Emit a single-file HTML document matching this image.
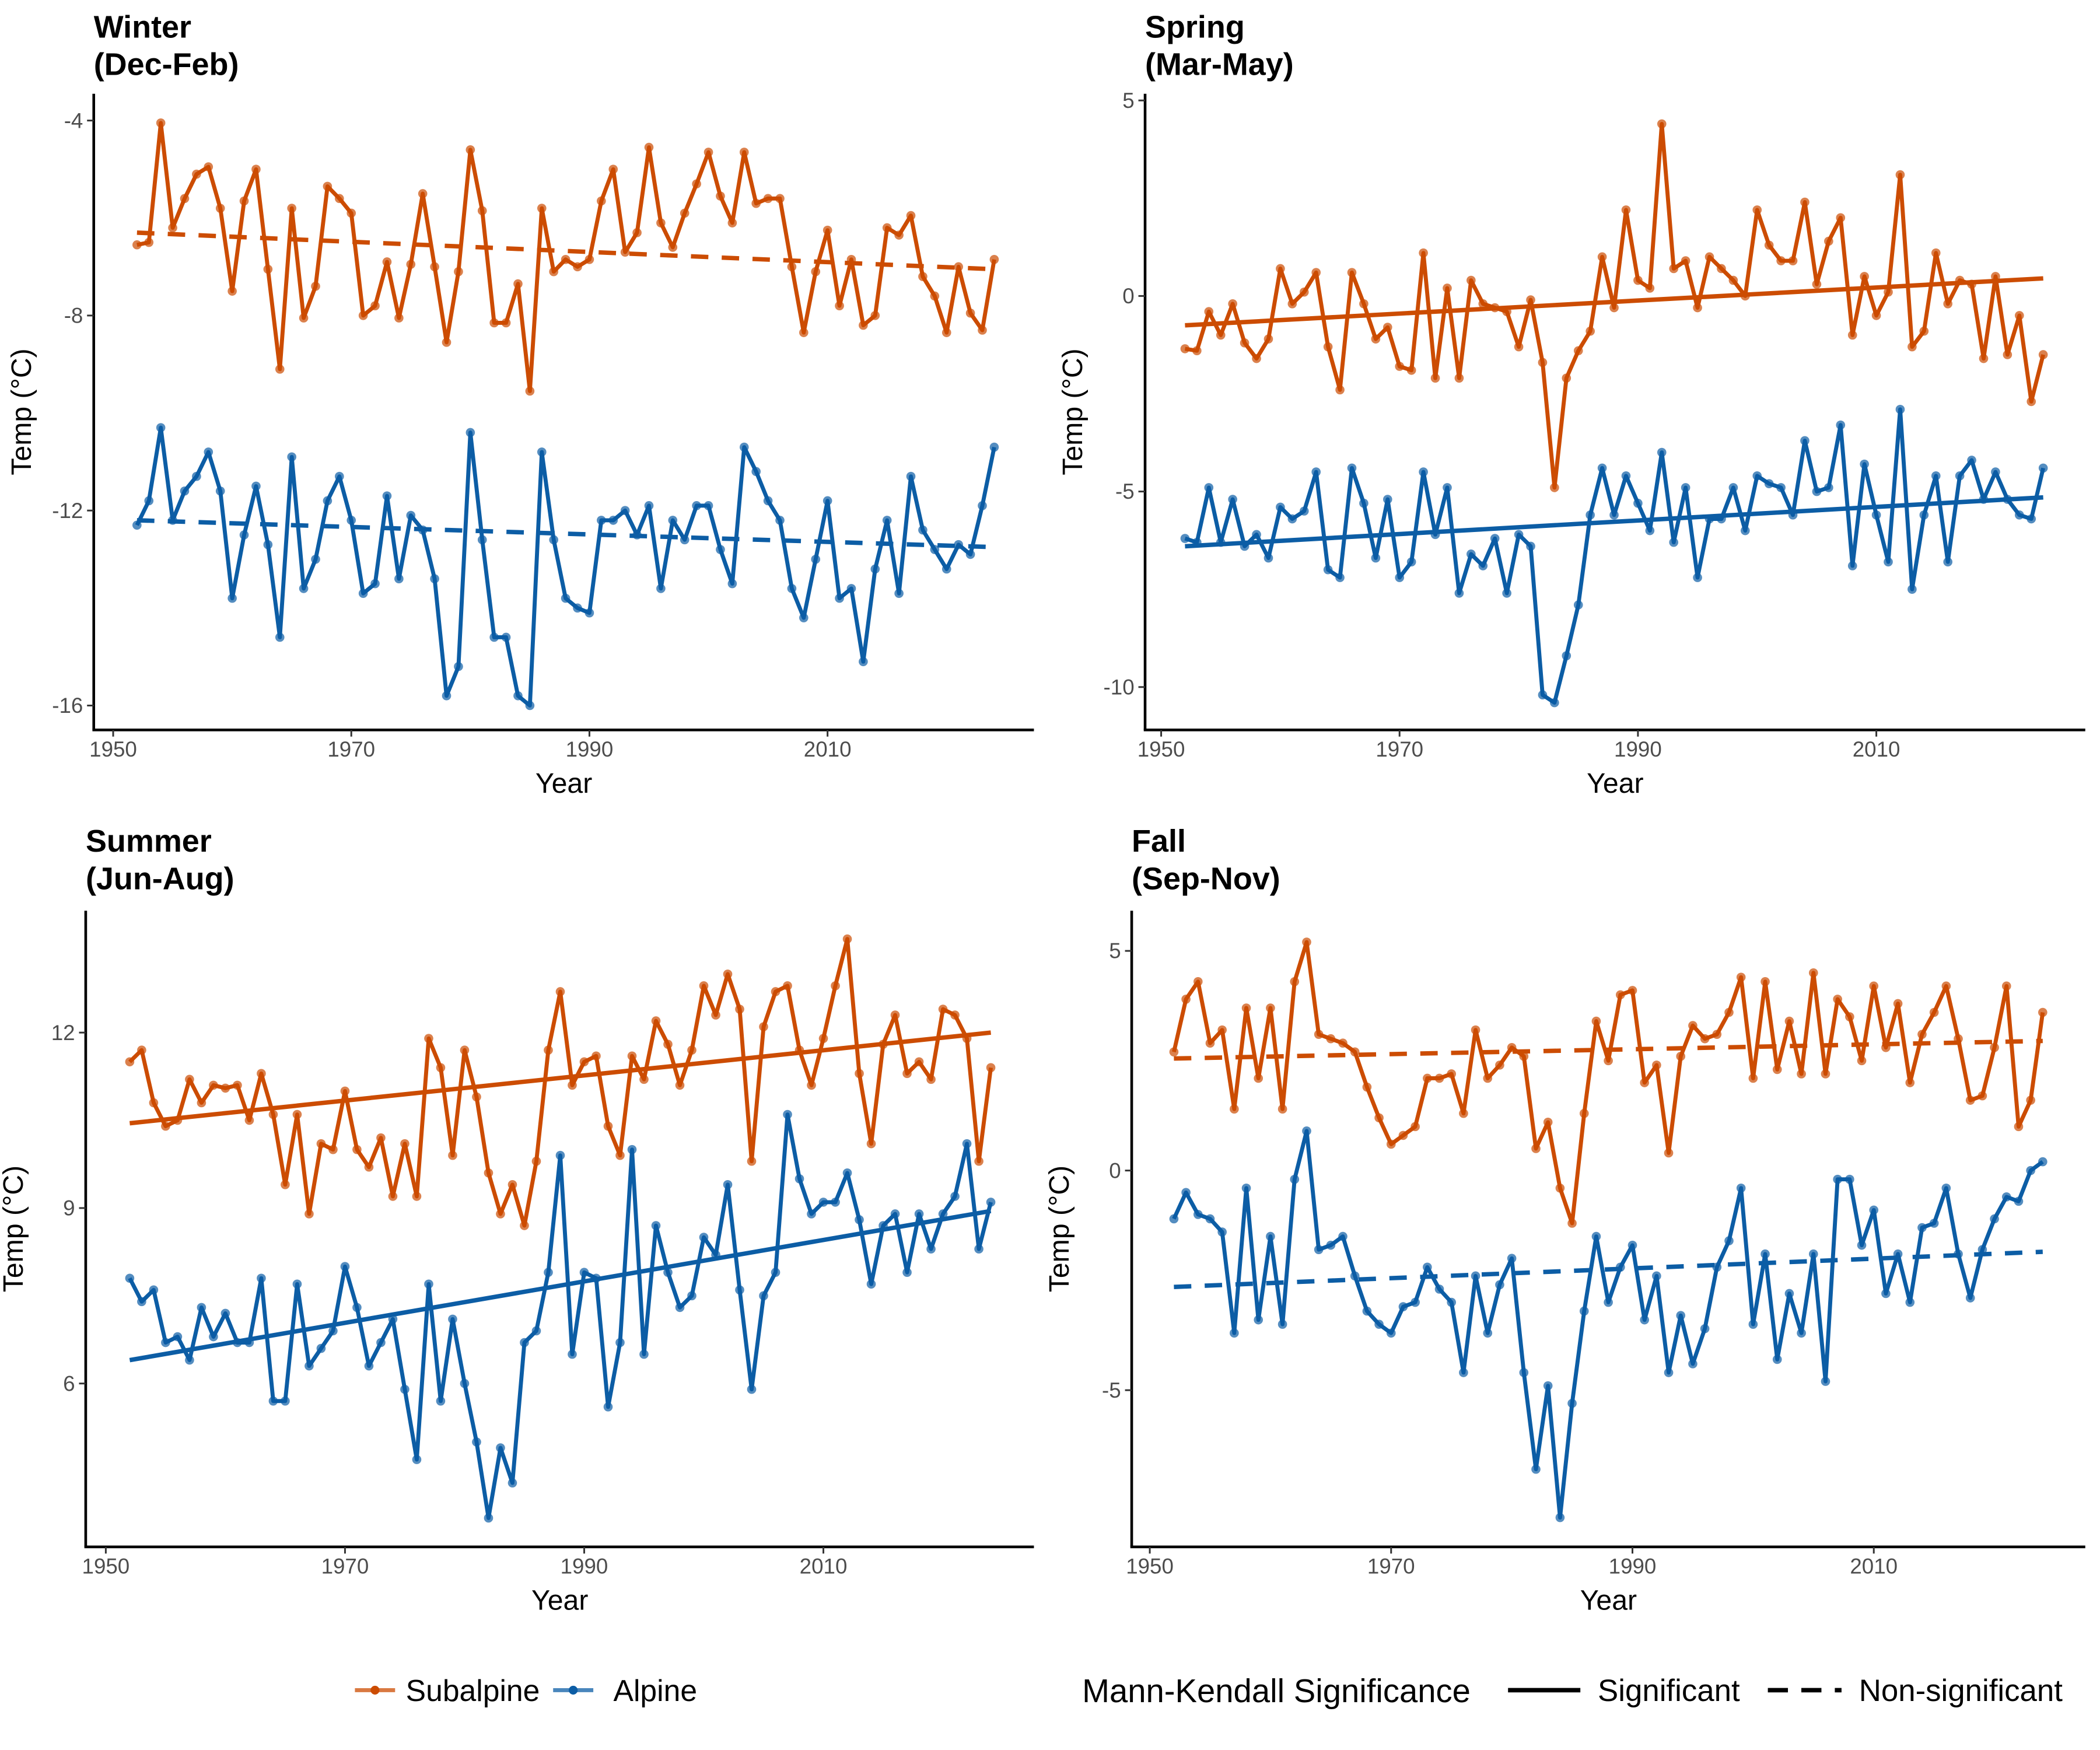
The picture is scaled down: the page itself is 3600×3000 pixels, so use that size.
<!DOCTYPE html>
<html><head><meta charset="utf-8"><style>
html,body{margin:0;padding:0;background:#fff}
svg{display:block}
text{font-family:"Liberation Sans",Arial,sans-serif}
</style></head><body>
<svg id="chart" width="3600" height="3000" viewBox="0 0 1568 1306.67" xmlns="http://www.w3.org/2000/svg">
<rect width="1568" height="1306.67" fill="#fff"/>
</svg>
<script>
const years = Array.from({length:73},(_,i)=>1952+i);
const winterSub = [-6.55,-6.5,-4.05,-6.2,-5.6,-5.1,-4.95,-5.8,-7.5,-5.65,-5.0,-7.05,-9.1,-5.8,-8.05,-7.4,-5.35,-5.6,-5.9,-8.0,-7.8,-6.9,-8.05,-6.95,-5.5,-7.0,-8.55,-7.1,-4.6,-5.85,-8.15,-8.15,-7.35,-9.55,-5.8,-7.1,-6.85,-7.0,-6.85,-5.65,-5.0,-6.7,-6.3,-4.55,-6.1,-6.6,-5.9,-5.3,-4.65,-5.55,-6.1,-4.65,-5.7,-5.6,-5.6,-7.0,-8.35,-7.1,-6.25,-7.8,-6.85,-8.2,-8.0,-6.2,-6.35,-5.95,-7.2,-7.6,-8.35,-7.0,-7.95,-8.3,-6.85];
const winterAlp = [-12.3,-11.8,-10.3,-12.2,-11.6,-11.3,-10.8,-11.6,-13.8,-12.5,-11.5,-12.7,-14.6,-10.9,-13.6,-13.0,-11.8,-11.3,-12.2,-13.7,-13.5,-11.7,-13.4,-12.1,-12.4,-13.4,-15.8,-15.2,-10.4,-12.6,-14.6,-14.6,-15.8,-16.0,-10.8,-12.6,-13.8,-14.0,-14.1,-12.2,-12.2,-12.0,-12.5,-11.9,-13.6,-12.2,-12.6,-11.9,-11.9,-12.8,-13.5,-10.7,-11.2,-11.8,-12.2,-13.6,-14.2,-13.0,-11.8,-13.8,-13.6,-15.1,-13.2,-12.2,-13.7,-11.3,-12.4,-12.8,-13.2,-12.7,-12.9,-11.9,-10.7];
const springSub = [-1.35,-1.4,-0.4,-1.0,-0.2,-1.2,-1.6,-1.1,0.7,-0.2,0.1,0.6,-1.3,-2.4,0.6,-0.2,-1.1,-0.8,-1.8,-1.9,1.1,-2.1,0.2,-2.1,0.4,-0.2,-0.3,-0.4,-1.3,-0.1,-1.7,-4.9,-2.1,-1.4,-0.9,1.0,-0.3,2.2,0.4,0.2,4.4,0.7,0.9,-0.3,1.0,0.7,0.4,0.0,2.2,1.3,0.9,0.9,2.4,0.3,1.4,2.0,-1.0,0.5,-0.5,0.1,3.1,-1.3,-0.9,1.1,-0.2,0.4,0.3,-1.6,0.5,-1.5,-0.5,-2.7,-1.5];
const springAlp = [-6.2,-6.3,-4.9,-6.3,-5.2,-6.4,-6.1,-6.7,-5.4,-5.7,-5.5,-4.5,-7.0,-7.2,-4.4,-5.3,-6.7,-5.2,-7.2,-6.8,-4.5,-6.1,-4.9,-7.6,-6.6,-6.9,-6.2,-7.6,-6.1,-6.4,-10.2,-10.4,-9.2,-7.9,-5.6,-4.4,-5.6,-4.6,-5.3,-6.0,-4.0,-6.3,-4.9,-7.2,-5.7,-5.7,-4.9,-6.0,-4.6,-4.8,-4.9,-5.6,-3.7,-5.0,-4.9,-3.3,-6.9,-4.3,-5.6,-6.8,-2.9,-7.5,-5.6,-4.6,-6.8,-4.6,-4.2,-5.2,-4.5,-5.2,-5.6,-5.7,-4.4];
const summerSub = [11.5,11.7,10.8,10.4,10.5,11.2,10.8,11.1,11.05,11.1,10.5,11.3,10.6,9.4,10.6,8.9,10.1,10.0,11.0,10.0,9.7,10.2,9.2,10.1,9.2,11.9,11.4,9.9,11.7,10.9,9.6,8.9,9.4,8.7,9.8,11.7,12.7,11.1,11.5,11.6,10.4,9.9,11.6,11.2,12.2,11.8,11.1,11.7,12.8,12.3,13.0,12.4,9.8,12.1,12.7,12.8,11.7,11.1,11.9,12.8,13.6,11.3,10.1,11.8,12.3,11.3,11.5,11.2,12.4,12.3,11.9,9.8,11.4];
const summerAlp = [7.8,7.4,7.6,6.7,6.8,6.4,7.3,6.8,7.2,6.7,6.7,7.8,5.7,5.7,7.7,6.3,6.6,6.9,8.0,7.3,6.3,6.7,7.1,5.9,4.7,7.7,5.7,7.1,6.0,5.0,3.7,4.9,4.3,6.7,6.9,7.9,9.9,6.5,7.9,7.8,5.6,6.7,10.0,6.5,8.7,7.9,7.3,7.5,8.5,8.2,9.4,7.6,5.9,7.5,7.9,10.6,9.5,8.9,9.1,9.1,9.6,8.8,7.7,8.7,8.9,7.9,8.9,8.3,8.9,9.2,10.1,8.3,9.1];
const fallSub = [2.7,3.9,4.3,2.9,3.2,1.4,3.7,2.1,3.7,1.4,4.3,5.2,3.1,3.0,2.9,2.7,1.9,1.2,0.6,0.8,1.0,2.1,2.1,2.2,1.3,3.2,2.1,2.4,2.8,2.6,0.5,1.1,-0.4,-1.2,1.3,3.4,2.5,4.0,4.1,2.0,2.4,0.4,2.6,3.3,3.0,3.1,3.6,4.4,2.1,4.3,2.3,3.4,2.2,4.5,2.2,3.9,3.5,2.5,4.2,2.8,3.8,2.0,3.1,3.6,4.2,3.0,1.6,1.7,2.8,4.2,1.0,1.6,3.6];
const fallAlp = [-1.1,-0.5,-1.0,-1.1,-1.4,-3.7,-0.4,-3.4,-1.5,-3.5,-0.2,0.9,-1.8,-1.7,-1.5,-2.4,-3.2,-3.5,-3.7,-3.1,-3.0,-2.2,-2.7,-3.0,-4.6,-2.4,-3.7,-2.6,-2.0,-4.6,-6.8,-4.9,-7.9,-5.3,-3.2,-1.5,-3.0,-2.2,-1.7,-3.4,-2.4,-4.6,-3.3,-4.4,-3.6,-2.2,-1.6,-0.4,-3.5,-1.9,-4.3,-2.8,-3.7,-1.9,-4.8,-0.2,-0.2,-1.7,-0.9,-2.8,-1.9,-3.0,-1.3,-1.2,-0.4,-1.9,-2.9,-1.8,-1.1,-0.6,-0.7,0.0,0.2];
const trendSub = {winter:[-6.3,-7.05], spring:[-0.75,0.45], summer:[10.45,12.0], fall:[2.55,2.95]};
const trendAlp = {winter:[-12.2,-12.75], spring:[-6.4,-5.15], summer:[6.4,8.95], fall:[-2.65,-1.85]};
const significant = {winter:false, spring:true, summer:true, fall:false};
const yTicksWinter = [-4,-8,-12,-16];
const yTicksSpring = [5,0,-5,-10];
const yTicksSummer = [12,9,6];
const yTicksFall = [5,0,-5];
const xTicks = [1950,1970,1990,2010];

const NS='http://www.w3.org/2000/svg';
const svg=document.getElementById('chart');
function mk(tag,attrs,parent,txt){const e=document.createElementNS(NS,tag);for(const k in attrs)e.setAttribute(k,attrs[k]);if(txt!==undefined)e.textContent=txt;(parent||svg).appendChild(e);return e;}
const ORANGE='#CC4C02', BLUE='#0C5DA5';

const panels=[
 {key:'winter',title:'Winter',sub:'(Dec-Feb)',left:70,right:772,top:70,bottom:545,x0:84.5,xs:8.89,yRef:-4,yRefPx:90,ys:36.4,ticks:yTicksWinter,sub1:winterSub,alp:winterAlp,tx:70,ty:28},
 {key:'spring',title:'Spring',sub:'(Mar-May)',left:855,right:1557,top:70,bottom:545,x0:867,xs:8.9,yRef:0,yRefPx:221,ys:29.2,ticks:yTicksSpring,sub1:springSub,alp:springAlp,tx:855,ty:28},
 {key:'summer',title:'Summer',sub:'(Jun-Aug)',left:64,right:772,top:680,bottom:1155,x0:79,xs:8.93,yRef:12,yRefPx:771,ys:43.67,ticks:yTicksSummer,sub1:summerSub,alp:summerAlp,tx:64,ty:636},
 {key:'fall',title:'Fall',sub:'(Sep-Nov)',left:845,right:1557,top:680,bottom:1155,x0:858.5,xs:9.01,yRef:0,yRefPx:874,ys:32.8,ticks:yTicksFall,sub1:fallSub,alp:fallAlp,tx:845,ty:636}
];

panels.forEach(p=>{
  const g=mk('g',{});
  
  
  const X=yr=>p.x0+(yr-1950)*p.xs;
  const Y=v=>p.yRefPx-(v-p.yRef)*p.ys;
  const t1=mk('text',{x:p.tx,y:p.ty,'font-size':23.5,'font-weight':'bold',fill:'#000'},g,p.title);
  
  
  const t2=mk('text',{x:p.tx,y:p.ty+28,'font-size':23.5,'font-weight':'bold',fill:'#000'},g,p.sub);
  
  
  const ya=mk('line',{x1:p.left,y1:p.top,x2:p.left,y2:p.bottom,stroke:'#000','stroke-width':2},g);
  
  
  const xa=mk('line',{x1:p.left-1,y1:p.bottom,x2:p.right,y2:p.bottom,stroke:'#000','stroke-width':2},g);
  
  
  p.ticks.forEach(v=>{
    mk('line',{x1:p.left-5,y1:Y(v),x2:p.left,y2:Y(v),stroke:'#333','stroke-width':1.3},g);
    const tl=mk('text',{x:p.left-8,y:Y(v)+5.5,'font-size':16,fill:'#4d4d4d','text-anchor':'end'},g,String(v));
    
    
  });
  xTicks.forEach(v=>{
    mk('line',{x1:X(v),y1:p.bottom,x2:X(v),y2:p.bottom+5,stroke:'#333','stroke-width':1.3},g);
    const tl=mk('text',{x:X(v),y:p.bottom+20,'font-size':16,fill:'#4d4d4d','text-anchor':'middle'},g,String(v));
    
    
  });
  const cx=(p.left+p.right)/2, cy=(p.top+p.bottom)/2;
  const xt=mk('text',{x:cx,y:p.bottom+47,'font-size':21,fill:'#000','text-anchor':'middle'},g,'Year');
  
  
  const ytx=p.left-47;
  const yt=mk('text',{x:ytx,y:cy,'font-size':21,fill:'#000','text-anchor':'middle',transform:`rotate(-90 ${ytx} ${cy})`},g,'Temp (°C)');
  
  
  const dash=significant[p.key]?'none':'13 10';
  [[p.sub1,ORANGE,trendSub[p.key],'subalpine'],[p.alp,BLUE,trendAlp[p.key],'alpine']].forEach(([vals,col,tr,nm])=>{
    const d=vals.map((v,i)=>(i?'L':'M')+X(years[i]).toFixed(2)+' '+Y(v).toFixed(2)).join(' ');
    const pl=mk('path',{d:d,fill:'none',stroke:col,'stroke-width':3,'stroke-linejoin':'round'},g);
    
    
    vals.forEach((v,i)=>{
      const c=mk('circle',{cx:X(years[i]),cy:Y(v),r:3.4,fill:col,'fill-opacity':0.7},g);
      
      
    });
    const tl=mk('line',{x1:X(years[0]),y1:Y(tr[0]),x2:X(years[years.length-1]),y2:Y(tr[1]),stroke:col,'stroke-width':3.3,'stroke-dasharray':dash},g);
    
    
  });
});

const lg=mk('g',{});


[[265,ORANGE,'Subalpine',303],[413,BLUE,'Alpine',458]].forEach(([x,c,t,tx])=>{
  const e=mk('g',{},lg);
  
  
  mk('line',{x1:x,y1:1262,x2:x+30,y2:1262,stroke:c,'stroke-width':3,'stroke-opacity':0.75},e);
  mk('circle',{cx:x+15,cy:1262,r:3.3,fill:c},e);
  mk('text',{x:tx,y:1270,'font-size':22.5,fill:'#000'},e,t);
});
const lg2=mk('g',{});


mk('text',{x:808,y:1271,'font-size':24.5,fill:'#000'},lg2,'Mann-Kendall Significance');
const s1=mk('g',{},lg2);


mk('line',{x1:1126,y1:1262,x2:1180,y2:1262,stroke:'#000','stroke-width':3.3},s1);
mk('text',{x:1193,y:1270,'font-size':23,fill:'#000'},s1,'Significant');
const s2=mk('g',{},lg2);


mk('line',{x1:1320,y1:1262,x2:1375,y2:1262,stroke:'#000','stroke-width':3.3,'stroke-dasharray':'15 10'},s2);
mk('text',{x:1388,y:1270,'font-size':23,fill:'#000'},s2,'Non-significant');
</script>
</body></html>
